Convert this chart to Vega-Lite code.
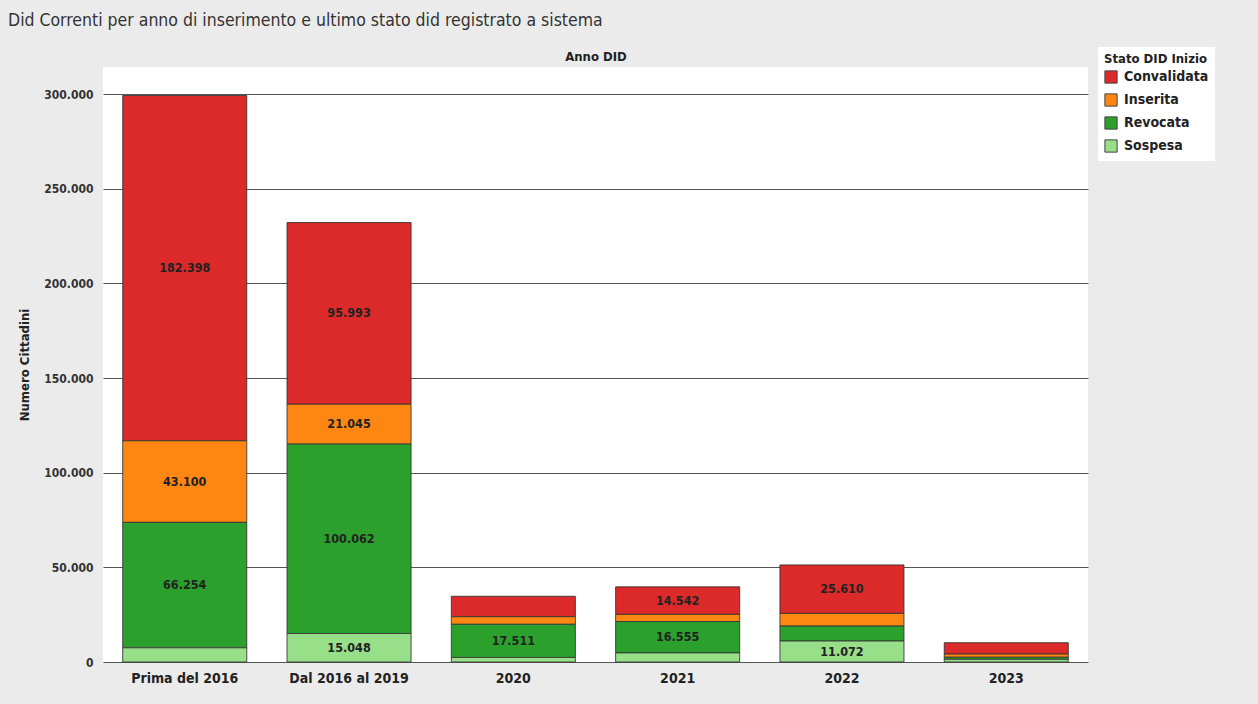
{
  "$schema": "https://vega.github.io/schema/vega-lite/v6.json",
  "width": 985,
  "height": 595,
  "autosize": {"type": "none"},
  "padding": {"left": 103, "top": 67, "right": 170, "bottom": 42},
  "background": "#ebebeb",
  "title": {
    "text": "Did Correnti per anno di inserimento e ultimo stato did registrato a sistema",
    "anchor": "start",
    "frame": "group",
    "dx": -95,
    "offset": 18,
    "font": "Liberation Sans Narrow, DejaVu Sans Condensed, sans-serif",
    "fontSize": 17.5,
    "fontWeight": "normal",
    "color": "#333333"
  },
  "config": {
    "locale": {"number": {"decimal": ",", "thousands": ".", "grouping": [3], "currency": ["", " €"]}},
    "view": {"fill": "white", "stroke": null},
    "font": "Liberation Sans Narrow, DejaVu Sans Condensed, sans-serif"
  },
  "data": {
    "values": [
      {"anno": "Prima del 2016", "stato": "Convalidata", "n": 182398},
      {"anno": "Prima del 2016", "stato": "Inserita", "n": 43100},
      {"anno": "Prima del 2016", "stato": "Revocata", "n": 66254},
      {"anno": "Prima del 2016", "stato": "Sospesa", "n": 7500},
      {"anno": "Dal 2016 al 2019", "stato": "Convalidata", "n": 95993},
      {"anno": "Dal 2016 al 2019", "stato": "Inserita", "n": 21045},
      {"anno": "Dal 2016 al 2019", "stato": "Revocata", "n": 100062},
      {"anno": "Dal 2016 al 2019", "stato": "Sospesa", "n": 15048},
      {"anno": "2020", "stato": "Convalidata", "n": 10800},
      {"anno": "2020", "stato": "Inserita", "n": 4000},
      {"anno": "2020", "stato": "Revocata", "n": 17511},
      {"anno": "2020", "stato": "Sospesa", "n": 2400},
      {"anno": "2021", "stato": "Convalidata", "n": 14542},
      {"anno": "2021", "stato": "Inserita", "n": 3800},
      {"anno": "2021", "stato": "Revocata", "n": 16555},
      {"anno": "2021", "stato": "Sospesa", "n": 4800},
      {"anno": "2022", "stato": "Convalidata", "n": 25610},
      {"anno": "2022", "stato": "Inserita", "n": 6700},
      {"anno": "2022", "stato": "Revocata", "n": 7900},
      {"anno": "2022", "stato": "Sospesa", "n": 11072},
      {"anno": "2023", "stato": "Convalidata", "n": 6000},
      {"anno": "2023", "stato": "Inserita", "n": 1700},
      {"anno": "2023", "stato": "Revocata", "n": 1100},
      {"anno": "2023", "stato": "Sospesa", "n": 1400}
    ]
  },
  "resolve": {"axis": {"x": "independent"}},
  "layer": [
    {
      "mark": {"type": "bar", "stroke": "#333333", "strokeWidth": 1, "strokeOpacity": 0.85},
      "encoding": {
        "x": {
          "field": "anno", "type": "nominal",
          "sort": ["Prima del 2016", "Dal 2016 al 2019", "2020", "2021", "2022", "2023"],
          "scale": {"paddingInner": 0.245, "paddingOuter": 0.12},
          "axis": {
            "orient": "bottom", "title": null, "labelAngle": 0, "domain": false, "ticks": false,
            "labelPadding": 9, "labelFontSize": 14, "labelFontWeight": "bold", "labelColor": "#222222"
          }
        },
        "y": {
          "field": "n", "type": "quantitative", "stack": "zero",
          "scale": {"domain": [0, 314300], "nice": false},
          "axis": {
            "title": "Numero Cittadini", "values": [0, 50000, 100000, 150000, 200000, 250000, 300000],
            "format": ",d", "domain": false, "ticks": false, "labelPadding": 10,
            "labelFontSize": 12, "labelFontWeight": "bold", "labelColor": "#333333",
            "titleFontSize": 13, "titleFontWeight": "bold", "titleColor": "#222222", "titlePadding": 12,
            "gridColor": "#555555", "gridWidth": 1, "gridOpacity": 1
          }
        },
        "color": {
          "field": "stato", "type": "nominal",
          "scale": {"domain": ["Convalidata", "Inserita", "Revocata", "Sospesa"], "range": ["#dc2a2a", "#fe8713", "#2ca02c", "#98df8a"]},
          "legend": {
            "title": "Stato DID Inizio", "orient": "none", "legendX": 995, "legendY": -20,
            "fillColor": "white", "padding": 6, "symbolType": "square", "symbolSize": 150,
            "symbolStrokeColor": "#444444", "symbolStrokeWidth": 1, "symbolOpacity": 1,
            "titleFontSize": 13, "titleFontWeight": "bold", "titleColor": "#222222", "titlePadding": 4,
            "labelFontSize": 14, "labelFontWeight": "bold", "labelColor": "#222222", "rowPadding": 5,
            "labelOffset": 6
          }
        },
        "order": {"field": "stato", "sort": "descending"}
      }
    },
    {
      "transform": [
        {"stack": "n", "groupby": ["anno"], "sort": [{"field": "stato", "order": "descending"}], "as": ["y0", "y1"]},
        {"calculate": "(datum.y0 + datum.y1) / 2", "as": "ymid"},
        {"filter": "datum.n > 11000"}
      ],
      "mark": {"type": "text", "fontSize": 12.5, "fontWeight": "bold", "color": "#222222", "baseline": "middle"},
      "encoding": {
        "x": {
          "field": "anno", "type": "nominal",
          "sort": ["Prima del 2016", "Dal 2016 al 2019", "2020", "2021", "2022", "2023"],
          "axis": {
            "orient": "top", "title": "Anno DID", "labels": false, "ticks": false, "domain": false,
            "titleFontSize": 13, "titleFontWeight": "bold", "titleColor": "#222222", "titlePadding": 4
          }
        },
        "y": {"field": "ymid", "type": "quantitative"},
        "text": {"field": "n", "type": "quantitative", "format": ","}
      }
    }
  ]
}
